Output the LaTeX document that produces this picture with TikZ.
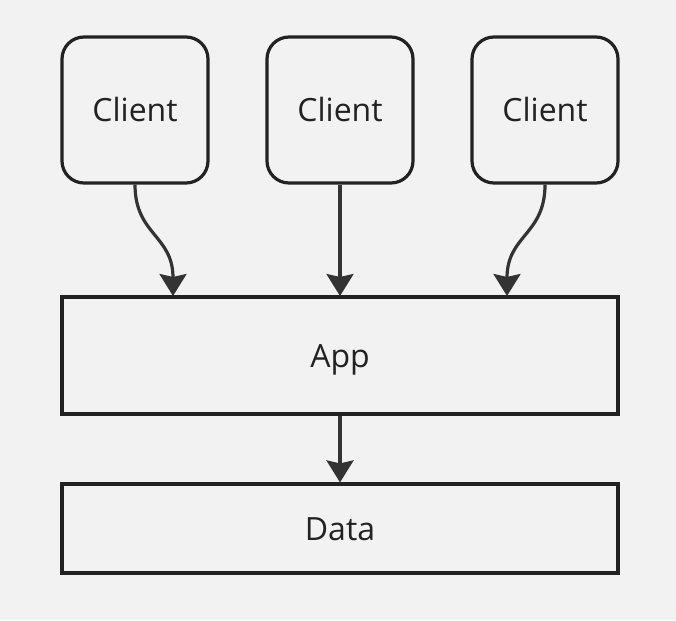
\documentclass[tikz,border=0pt]{standalone}
\usepackage{fontspec}
\setmainfont{Open Sans}
\usetikzlibrary{arrows.meta}
\definecolor{bg}{HTML}{F2F2F2}
\definecolor{ink}{HTML}{222222}
\definecolor{arr}{HTML}{333333}
\begin{document}
\begin{tikzpicture}[x=1pt,y=-1pt,
  lbl/.style={font=\fontsize{32}{36}\selectfont,text=ink,text height=23.4pt,text depth=0pt,inner sep=0pt},
  client/.style={lbl,draw=ink,line width=3.2pt,fill=bg,rounded corners=22pt,minimum width=146pt,minimum height=146pt},
  layer/.style={lbl,draw=ink,line width=3.2pt,fill=bg,minimum width=556pt},
  link/.style={draw=arr,line width=3.2pt,-{Stealth[length=22pt,width=27pt,inset=3pt]}}]
\fill[bg] (0,0) rectangle (676,620);
\useasboundingbox (0,0) rectangle (676,620);
\node[client] (c1) at (135,110) {Client};
\node[client] (c2) at (340,110) {Client};
\node[client] (c3) at (545,110) {Client};
\node[layer,minimum height=117pt] (app) at (340,355.5) {App};
\node[layer,minimum height=89pt] (data) at (340,528.5) {Data};
\coordinate (a1) at (173,296);
\coordinate (a2) at (340,296);
\coordinate (a3) at (507,296);
\draw[link] (c1.south) .. controls (135,235) and (173,235) .. (a1);
\draw[link] (c2.south) -- (a2);
\draw[link] (c3.south) .. controls (545,235) and (507,235) .. (a3);
\draw[link] (app.south) -- (data.north);
\end{tikzpicture}
\end{document}
